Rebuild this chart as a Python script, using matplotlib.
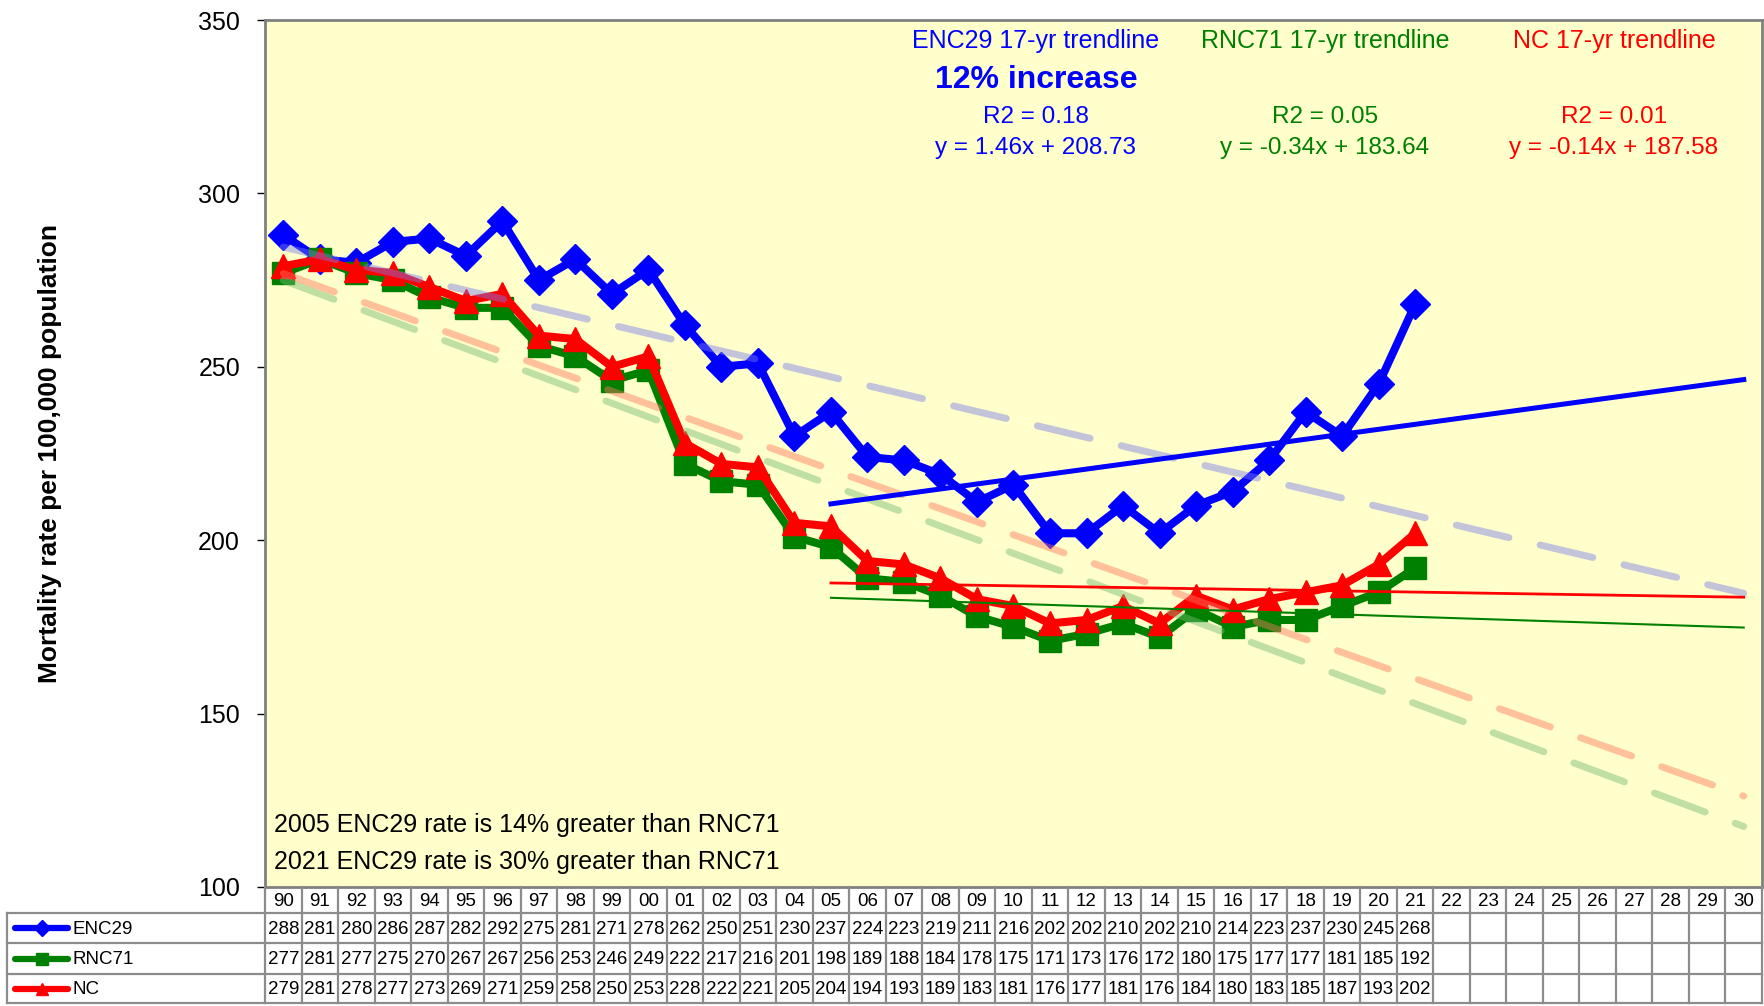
import matplotlib
matplotlib.use('Agg')
import matplotlib.pyplot as plt
import numpy as np

plt.rcParams['font.family'] = ['Liberation Sans', 'DejaVu Sans']

# 数据
years = [f'{y % 100:02d}' for y in range(1990, 2031)]
enc29 = [288, 281, 280, 286, 287, 282, 292, 275, 281, 271, 278, 262, 250, 251, 230, 237,
         224, 223, 219, 211, 216, 202, 202, 210, 202, 210, 214, 223, 237, 230, 245, 268]
rnc71 = [277, 281, 277, 275, 270, 267, 267, 256, 253, 246, 249, 222, 217, 216, 201, 198,
         189, 188, 184, 178, 175, 171, 173, 176, 172, 180, 175, 177, 177, 181, 185, 192]
nc = [279, 281, 278, 277, 273, 269, 271, 259, 258, 250, 253, 228, 222, 221, 205, 204,
      194, 193, 189, 183, 181, 176, 177, 181, 176, 184, 180, 183, 185, 187, 193, 202]

series_names = ['ENC29', 'RNC71', 'NC']
series_vals = [enc29, rnc71, nc]
colors = ['#0000FF', '#008000', '#FF0000']
markers = ['D', 's', '^']
msizes = [15, 16, 17]
dash_colors = ['#7A7AEA', '#75BB72', '#FF755E']
trend_lw = [3.6, 1.5, 2.0]

trend_titles = ['ENC29 17-yr trendline', 'RNC71 17-yr trendline', 'NC 17-yr trendline']
trend_r2 = ['R2 = 0.18', 'R2 = 0.05', 'R2 = 0.01']
trend_eq = ['y = 1.46x + 208.73', 'y = -0.34x + 183.64', 'y = -0.14x + 187.58']
notes = ['2005 ENC29 rate is 14% greater than RNC71',
         '2021 ENC29 rate is 30% greater than RNC71']

W, H = 1765, 1006
L, R, T, B = 265, 1762, 20, 887

fig = plt.figure(figsize=(W / 100, H / 100), dpi=100)
ax = fig.add_axes([L / W, 1 - B / H, (R - L) / W, (B - T) / H])
ax.set_facecolor('#FFFFCC')

n = len(years)
idx_all = np.arange(len(enc29))
idx_17 = np.arange(15, len(enc29))   # 2005-2021

# 数据折线 (绿 -> 红 -> 蓝)
for k in [1, 2, 0]:
    ax.plot(idx_all, series_vals[k], color=colors[k], lw=5.8, marker=markers[k],
            ms=msizes[k], mec=colors[k], mew=1, zorder=3 + k * 0.1)

# 长期趋势线 (1990-2021, 延伸至2030)
xx = np.array([0, n - 1])
for k in range(3):
    z = np.polyfit(idx_all, series_vals[k], 1)
    ax.plot(xx, np.polyval(z, xx), color=dash_colors[k], alpha=0.45, lw=5,
            dashes=(7.8, 4.6), dash_capstyle='round', solid_capstyle='round', zorder=5)

# 17年趋势线 (2005-2021, 延伸至2030)
xx17 = np.array([15, n - 1])
for k in range(3):
    z = np.polyfit(idx_17, np.array(series_vals[k])[15:], 1)
    ax.plot(xx17, np.polyval(z, xx17), color=colors[k], lw=trend_lw[k], zorder=6)

ax.set_xlim(-0.5, n - 0.5)
ax.set_ylim(100, 350)
ax.set_yticks(np.arange(100, 351, 50))
ax.set_xticks([])
ax.tick_params(axis='y', direction='out', length=6, width=1, labelsize=18, pad=12, color='black')
for s in ax.spines.values():
    s.set_color('#808080')
    s.set_linewidth(2)
ax.set_ylabel('Mortality rate per 100,000 population', fontsize=19, fontweight='bold')
ax.yaxis.set_label_coords((62 - L) / (R - L), 0.5)

# 叠加层: 文字和数据表
ov = fig.add_axes([0, 0, 1, 1])
ov.set_xlim(0, W)
ov.set_ylim(H, 0)
ov.axis('off')

col_x = [1036, 1325, 1614]
for k in range(3):
    ov.text(col_x[k], 41, trend_titles[k], color=colors[k], fontsize=18, ha='center', va='center')
    ov.text(col_x[k], 117, trend_r2[k], color=colors[k], fontsize=17.5, ha='center', va='center')
    ov.text(col_x[k], 148, trend_eq[k], color=colors[k], fontsize=17.5, ha='center', va='center')
ov.text(col_x[0], 80, '12% increase', color=colors[0], fontsize=23, fontweight='bold',
        ha='center', va='center')
ov.text(274, 825, notes[0], fontsize=18, ha='left', va='center')
ov.text(274, 862, notes[1], fontsize=18, ha='left', va='center')

# 数据表
cw = (R - L) / n
row_y = [887, 913, 943, 974, 1003]
gc = '#8C8C8C'
for i in range(n + 1):
    ov.plot([L + cw * i] * 2, [row_y[0], row_y[-1]], color=gc, lw=1.6)
for yv in row_y[1:]:
    ov.plot([7, R], [yv, yv], color=gc, lw=1.6)
ov.plot([7, 7], [row_y[1], row_y[-1]], color=gc, lw=1.6)

tfs = 13.5
for i, yr in enumerate(years):
    ov.text(L + cw * (i + 0.5), (row_y[0] + row_y[1]) / 2 + 1, yr, fontsize=tfs,
            ha='center', va='center')
for k in range(3):
    yc = (row_y[k + 1] + row_y[k + 2]) / 2
    ov.plot([15, 68], [yc, yc], color=colors[k], lw=4.5, solid_capstyle='round')
    ov.plot([42], [yc], marker=markers[k], color=colors[k], ms=8)
    ov.text(73, yc + 1, series_names[k], fontsize=tfs, ha='left', va='center')
    for i, v in enumerate(series_vals[k]):
        ov.text(L + cw * (i + 0.5), yc + 1, str(v), fontsize=tfs, ha='center', va='center')

fig.savefig('out.png', dpi=100, facecolor='white')
